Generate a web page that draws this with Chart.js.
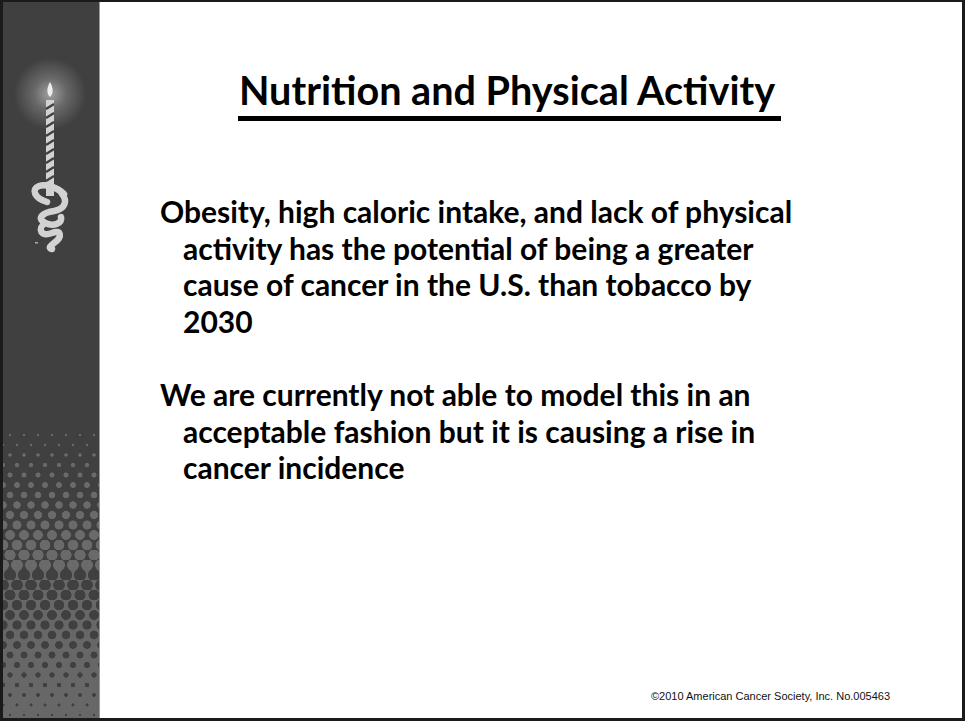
<!DOCTYPE html>
<html>
<head>
<meta charset="utf-8">
<script src="https://cdn.jsdelivr.net/npm/chart.js@4.4.0/dist/chart.umd.min.js"></script>
<style>
  html, body { margin: 0; padding: 0; background: #fff; }
  #slide {
    position: relative; width: 965px; height: 721px; overflow: hidden;
    box-sizing: border-box; border: 3px solid #1a1a1a; border-top-width: 2px; background: #fff;
  }
  #side {
    position: absolute; left: 0; top: 0; width: 96px; height: 100%;
    background: #404040; border-right: 1px solid #9a9a9a; overflow: hidden;
  }
  .band { position: absolute; left: 0; width: 96px; }
  #title {
    position: absolute; left: 236px; top: 64px;
    font-family: Lato, "Open Sans", sans-serif; font-weight: 700; font-size: 39.6px;
    line-height: 48px; color: #000; white-space: nowrap;
  }
  #rule { position: absolute; left: 235px; top: 114px; width: 543px; height: 5px; background: #000; }
  .para {
    position: absolute; left: 157px; font-family: Lato, "Open Sans", sans-serif; font-weight: 700;
    font-size: 30px; line-height: 36.5px; color: #000;
  }
  .para div { white-space: nowrap; }
  .para div.cont { padding-left: 23px; }
  #foot {
    position: absolute; left: 648px; top: 688px; font-family: "Liberation Sans", Arial, sans-serif;
    font-size: 11px; color: #111; white-space: nowrap;
  }
  #chartBox { position: absolute; left: 100px; top: 0; width: 860px; height: 716px; pointer-events: none; }
</style>
</head>
<body>
<div id="slide">
  <div id="side">
    <svg width="96" height="280" style="position:absolute;left:0;top:0">
      <defs>
        <radialGradient id="glow" cx="50%" cy="50%" r="50%">
          <stop offset="0" stop-color="#a0a0a0"/>
          <stop offset="0.45" stop-color="#686868"/>
          <stop offset="1" stop-color="#404040"/>
        </radialGradient>
      </defs>
      <circle cx="47" cy="92" r="36" fill="url(#glow)"/>
      <path d="M47 80 C43 87 44 92 47 95 C50 92 51 87 47 80 Z" fill="#eeeeee"/>
      <rect x="43" y="98" width="8" height="96" fill="#d2d2d2"/>
      <g stroke="#404040" stroke-width="2.4">
        <line x1="43" y1="107" x2="51" y2="102"/><line x1="43" y1="116" x2="51" y2="111"/>
        <line x1="43" y1="125" x2="51" y2="120"/><line x1="43" y1="134" x2="51" y2="129"/>
        <line x1="43" y1="143" x2="51" y2="138"/><line x1="43" y1="152" x2="51" y2="147"/>
        <line x1="43" y1="161" x2="51" y2="156"/><line x1="43" y1="170" x2="51" y2="165"/>
        <line x1="43" y1="179" x2="51" y2="174"/>
      </g>
      <g fill="none" stroke="#d2d2d2" stroke-width="6.5" stroke-linecap="round">
        <path d="M44 200 C31 196 28 187 36 184 C43 182 54 185 61 192"/>
        <path d="M59 192 C65 199 62 207 51 209 C38 211 34 217 42 221 C51 225 60 221 58 215"/>
        <path d="M42 221 C34 227 38 235 49 231 C58 227 60 235 51 241 C47 244 45 246 49 247"/>
      </g>
      <rect x="32" y="240" width="3" height="1.5" fill="#aaa"/>
    </svg>
  </div>

  <div id="title">Nutrition and Physical Activity</div>
  <div id="rule"></div>

  <div class="para" id="p1" style="top:191px">
    <div>Obesity, high caloric intake, and lack of physical</div>
    <div class="cont">activity has the potential of being a greater</div>
    <div class="cont">cause of cancer in the U.S. than tobacco by</div>
    <div class="cont">2030</div>
  </div>
  <div class="para" id="p2" style="top:374px">
    <div>We are currently not able to model this in an</div>
    <div class="cont">acceptable fashion but it is causing a rise in</div>
    <div class="cont">cancer incidence</div>
  </div>

  <div id="foot">©2010 American Cancer Society, Inc. No.005463</div>
  <div id="chartBox"><canvas id="chart"></canvas></div>
</div>

<script>
// Halftone band of the sidebar: dot radius per 10px row (top: light dots, bottom: dark dots)
const lightDots = [0.7, 1.0, 1.4, 1.8, 2.2, 2.6, 3.0, 3.4, 3.8, 4.2, 4.6, 5.0, 5.3, 5.6];
const darkDots = [5.8, 5.5, 5.2, 4.9, 4.6, 4.3, 4.0, 3.6, 3.2, 2.8, 2.4, 2.0, 1.6, 1.2, 0.8];

const side = document.getElementById("side");
function addBand(top, r, dot, bg, shift) {
  const b = document.createElement("div");
  b.className = "band";
  b.style.top = top + "px";
  b.style.height = "10px";
  b.style.backgroundImage = `radial-gradient(circle at 50% 50%, ${dot} ${r}px, transparent ${r + 0.6}px)`;
  b.style.backgroundSize = "14px 10px";
  b.style.backgroundPosition = (shift ? 7 : 0) + "px 0px";
  b.style.backgroundColor = bg || "transparent";
  side.appendChild(b);
}
lightDots.forEach((r, i) => addBand(428 + i * 10, r, "#6a6a6a", null, i % 2));
darkDots.forEach((r, i) => addBand(568 + i * 10, r, "#404040", "#676767", i % 2));

// Chart.js layer: empty chart canvas over the content area (no plotted series on this slide)
new Chart(document.getElementById("chart"), {
  type: "scatter",
  data: { datasets: [] },
  options: {
    responsive: true,
    maintainAspectRatio: false,
    animation: false,
    plugins: { legend: { display: false }, tooltip: { enabled: false } },
    scales: { x: { display: false }, y: { display: false } }
  }
});
</script>
</body>
</html>
